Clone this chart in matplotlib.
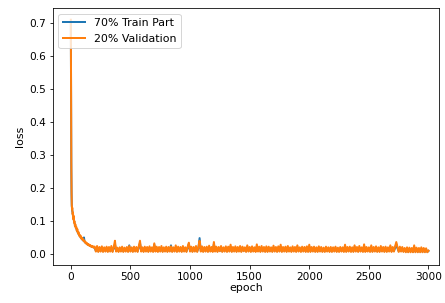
import matplotlib
matplotlib.use('Agg')
import matplotlib.pyplot as plt

plt.rcParams['font.family'] = 'DejaVu Sans'
plt.rcParams['font.size'] = 11

# --- Data ------------------------------------------------------------
early_epochs = [0, 2, 4, 6, 8, 10, 12, 15, 18, 21, 24, 27, 30, 34, 38, 42, 46,
                50, 55, 60, 65, 70, 75, 80, 85, 90, 95, 100, 105, 110, 115,
                120, 125, 130, 135, 140, 145, 150, 155, 160, 165, 170, 175,
                180, 185, 190, 195]
late_epochs = list(range(200, 3001, 10))
epochs = early_epochs + late_epochs

train_early = [0.70, 0.42, 0.26, 0.18, 0.145, 0.14, 0.13, 0.125, 0.115, 0.11,
               0.105, 0.10, 0.095, 0.09, 0.085, 0.08, 0.078, 0.072, 0.068, 0.064,
               0.06, 0.058, 0.054, 0.052, 0.049, 0.047, 0.044, 0.042, 0.04, 0.05,
               0.037, 0.035, 0.033, 0.032, 0.03, 0.029, 0.028, 0.027, 0.026, 0.025,
               0.024, 0.023, 0.022, 0.021, 0.021, 0.02, 0.02]
train_late = [
    0.018, 0.009, 0.02, 0.008, 0.017, 0.009, 0.019, 0.008, 0.017, 0.009, 0.018, 0.008, 0.017, 0.009, 0.019, 0.008, 0.017, 0.03, 0.009, 0.016,
    0.008, 0.017, 0.009, 0.018, 0.008, 0.016, 0.009, 0.018, 0.008, 0.026, 0.009, 0.017, 0.008, 0.018, 0.009, 0.017, 0.008, 0.019, 0.033, 0.009,
    0.017, 0.008, 0.018, 0.009, 0.017, 0.008, 0.019, 0.009, 0.017, 0.008, 0.028, 0.009, 0.018, 0.008, 0.017, 0.009, 0.019, 0.008, 0.017, 0.009,
    0.018, 0.008, 0.017, 0.009, 0.026, 0.008, 0.017, 0.009, 0.02, 0.008, 0.018, 0.009, 0.017, 0.008, 0.019, 0.009, 0.017, 0.008, 0.018, 0.03,
    0.009, 0.018, 0.008, 0.017, 0.009, 0.019, 0.008, 0.017, 0.048, 0.009, 0.018, 0.008, 0.017, 0.009, 0.018, 0.008, 0.02, 0.009, 0.017, 0.008,
    0.03, 0.009, 0.018, 0.008, 0.017, 0.009, 0.019, 0.008, 0.017, 0.009, 0.018, 0.008, 0.018, 0.009, 0.022, 0.008, 0.017, 0.009, 0.018, 0.008,
    0.017, 0.009, 0.019, 0.008, 0.018, 0.009, 0.017, 0.008, 0.021, 0.009, 0.017, 0.008, 0.018, 0.009, 0.017, 0.008, 0.023, 0.009, 0.018, 0.008,
    0.019, 0.009, 0.017, 0.008, 0.018, 0.008, 0.018, 0.009, 0.017, 0.008, 0.02, 0.009, 0.017, 0.008, 0.018, 0.009, 0.022, 0.008, 0.017, 0.009,
    0.018, 0.008, 0.019, 0.009, 0.017, 0.008, 0.018, 0.009, 0.017, 0.008, 0.021, 0.009, 0.017, 0.008, 0.018, 0.009, 0.017, 0.008, 0.018, 0.008,
    0.022, 0.008, 0.017, 0.009, 0.018, 0.008, 0.017, 0.008, 0.018, 0.009, 0.017, 0.008, 0.016, 0.008, 0.018, 0.009, 0.017, 0.008, 0.017, 0.008,
    0.017, 0.009, 0.018, 0.008, 0.016, 0.008, 0.017, 0.009, 0.017, 0.008, 0.023, 0.008, 0.017, 0.009, 0.018, 0.008, 0.017, 0.008, 0.021, 0.009,
    0.017, 0.008, 0.019, 0.009, 0.017, 0.008, 0.023, 0.008, 0.017, 0.009, 0.017, 0.008, 0.021, 0.008, 0.017, 0.009, 0.018, 0.008, 0.017, 0.008,
    0.019, 0.009, 0.017, 0.008, 0.018, 0.008, 0.017, 0.009, 0.021, 0.008, 0.017, 0.009, 0.018, 0.03, 0.017, 0.008, 0.018, 0.009, 0.017, 0.008,
    0.015, 0.007, 0.016, 0.006, 0.015, 0.007, 0.015, 0.006, 0.02, 0.007, 0.015, 0.006, 0.015, 0.007, 0.016, 0.006, 0.015, 0.007, 0.014, 0.006,
    0.009]
train_loss = train_early + train_late

val_early = [0.71, 0.45, 0.28, 0.19, 0.15, 0.135, 0.14, 0.12, 0.125, 0.105,
             0.115, 0.095, 0.10, 0.085, 0.09, 0.078, 0.082, 0.07, 0.075, 0.062,
             0.066, 0.055, 0.058, 0.05, 0.054, 0.045, 0.048, 0.042, 0.044, 0.038,
             0.04, 0.034, 0.036, 0.031, 0.033, 0.028, 0.03, 0.026, 0.028, 0.024,
             0.026, 0.022, 0.024, 0.021, 0.023, 0.019, 0.022]
val_late = [
    0.022, 0.007, 0.024, 0.006, 0.021, 0.007, 0.023, 0.006, 0.02, 0.007, 0.022, 0.006, 0.021, 0.007, 0.024, 0.006, 0.02, 0.04, 0.007, 0.019,
    0.006, 0.02, 0.007, 0.022, 0.006, 0.019, 0.007, 0.021, 0.006, 0.024, 0.007, 0.02, 0.006, 0.022, 0.007, 0.021, 0.006, 0.023, 0.04, 0.007,
    0.02, 0.006, 0.022, 0.007, 0.021, 0.006, 0.023, 0.007, 0.02, 0.006, 0.032, 0.007, 0.022, 0.006, 0.021, 0.007, 0.024, 0.006, 0.02, 0.007,
    0.022, 0.006, 0.021, 0.007, 0.023, 0.006, 0.02, 0.007, 0.026, 0.006, 0.022, 0.007, 0.021, 0.006, 0.024, 0.007, 0.02, 0.006, 0.022, 0.034,
    0.007, 0.022, 0.006, 0.021, 0.007, 0.024, 0.006, 0.02, 0.04, 0.007, 0.023, 0.006, 0.021, 0.007, 0.022, 0.006, 0.025, 0.007, 0.021, 0.006,
    0.036, 0.007, 0.022, 0.006, 0.021, 0.008, 0.024, 0.006, 0.02, 0.007, 0.023, 0.006, 0.022, 0.007, 0.028, 0.006, 0.021, 0.007, 0.023, 0.006,
    0.021, 0.007, 0.024, 0.006, 0.022, 0.008, 0.02, 0.006, 0.026, 0.007, 0.021, 0.006, 0.023, 0.007, 0.02, 0.006, 0.029, 0.007, 0.022, 0.006,
    0.024, 0.007, 0.021, 0.006, 0.023, 0.006, 0.022, 0.007, 0.02, 0.006, 0.025, 0.007, 0.021, 0.006, 0.023, 0.007, 0.028, 0.006, 0.021, 0.007,
    0.022, 0.006, 0.024, 0.007, 0.02, 0.006, 0.023, 0.007, 0.021, 0.006, 0.026, 0.007, 0.02, 0.006, 0.022, 0.007, 0.021, 0.006, 0.023, 0.006,
    0.028, 0.006, 0.021, 0.007, 0.022, 0.006, 0.02, 0.006, 0.023, 0.007, 0.021, 0.006, 0.019, 0.006, 0.022, 0.007, 0.02, 0.006, 0.021, 0.006,
    0.02, 0.007, 0.022, 0.006, 0.019, 0.006, 0.021, 0.007, 0.02, 0.006, 0.028, 0.006, 0.021, 0.007, 0.022, 0.006, 0.02, 0.006, 0.026, 0.007,
    0.021, 0.006, 0.024, 0.007, 0.02, 0.006, 0.029, 0.006, 0.021, 0.007, 0.02, 0.006, 0.026, 0.006, 0.021, 0.007, 0.023, 0.006, 0.02, 0.006,
    0.024, 0.007, 0.021, 0.006, 0.022, 0.006, 0.02, 0.007, 0.026, 0.006, 0.021, 0.007, 0.023, 0.036, 0.02, 0.006, 0.022, 0.007, 0.021, 0.006,
    0.018, 0.005, 0.02, 0.005, 0.019, 0.005, 0.018, 0.005, 0.026, 0.005, 0.019, 0.005, 0.018, 0.005, 0.02, 0.005, 0.018, 0.005, 0.017, 0.005,
    0.01]
val_loss = val_early + val_late

# --- Figure ----------------------------------------------------------
fig = plt.figure(figsize=(445 / 72, 303 / 72), dpi=72)
ax = fig.add_axes([0.119, 0.125, 0.868, 0.848])

ax.plot(epochs, train_loss, color='#1f77b4', linewidth=2, label='70% Train Part')
ax.plot(epochs, val_loss, color='#ff7f0e', linewidth=2, label='20% Validation')

ax.set_xlim(-150, 3090)
ax.set_ylim(-0.034, 0.745)
ax.tick_params(labelsize=10.5)
ax.set_xlabel('epoch', labelpad=1)
ax.set_ylabel('loss')
ax.legend(loc='upper left', fontsize=11)

fig.savefig('out.png', dpi=72, facecolor='white')
